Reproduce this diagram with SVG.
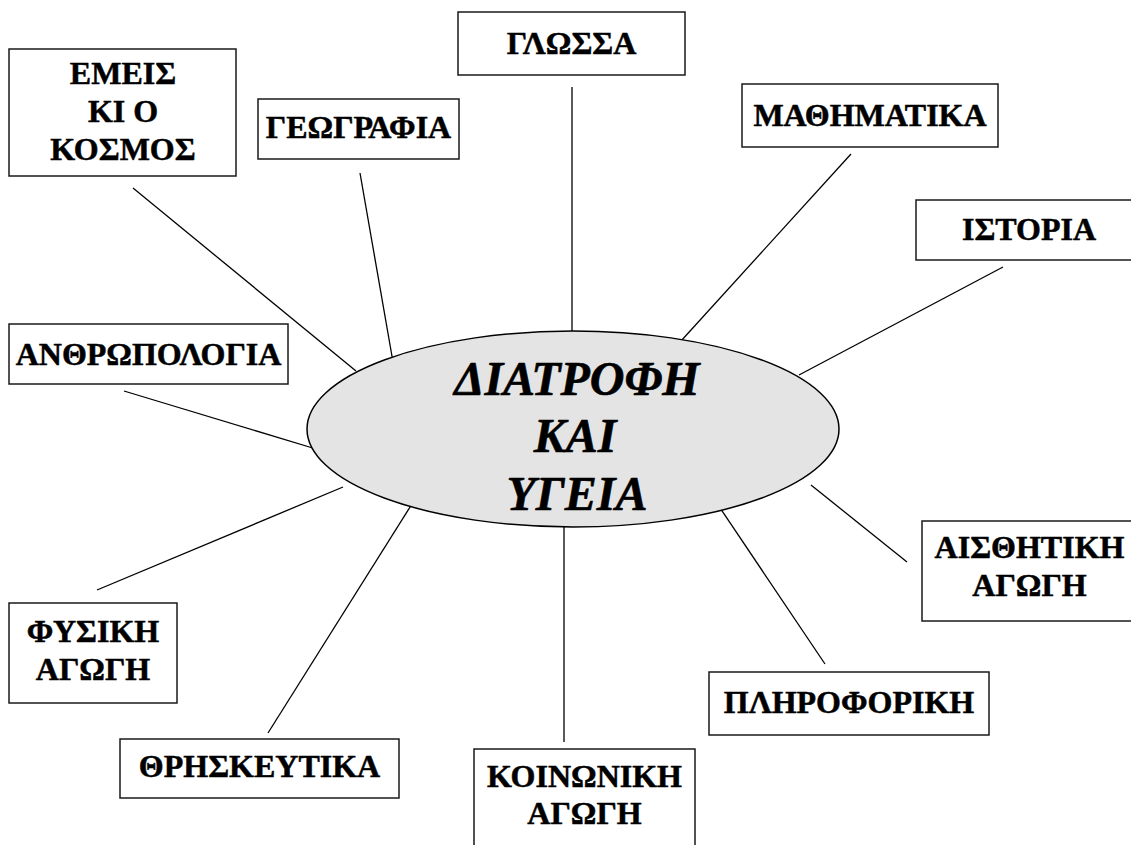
<svg xmlns="http://www.w3.org/2000/svg" width="1131" height="845" viewBox="0 0 1131 845">
<style>
.box{fill:#fff;stroke:#1a1a1a;stroke-width:1.5}
.lbl{font-family:"Liberation Serif","Times New Roman",serif;font-weight:bold;font-size:32px;fill:#000;stroke:#000;stroke-width:0.5;stroke-linejoin:round;text-anchor:middle}
.ctr{font-family:"Liberation Serif","Times New Roman",serif;font-weight:bold;font-style:italic;font-size:48px;fill:#000;stroke:#000;stroke-width:0.6;stroke-linejoin:round;text-anchor:middle}
.con{stroke:#000;stroke-width:1.3;fill:none}
</style>
<rect width="1131" height="845" fill="#fff"/>
<g id="connectors">
<line class="con" x1="133" y1="188" x2="356" y2="371"/>
<line class="con" x1="360" y1="173" x2="393" y2="362"/>
<line class="con" x1="572" y1="87" x2="572" y2="334"/>
<line class="con" x1="851" y1="154" x2="681" y2="341"/>
<line class="con" x1="1003" y1="267" x2="799" y2="375"/>
<line class="con" x1="907" y1="562" x2="811" y2="485"/>
<line class="con" x1="825" y1="664" x2="708" y2="490"/>
<line class="con" x1="564" y1="742" x2="564" y2="508"/>
<line class="con" x1="268" y1="733" x2="422" y2="488"/>
<line class="con" x1="97" y1="590" x2="343" y2="487"/>
<line class="con" x1="124" y1="391" x2="316" y2="449"/>
</g>
<g id="center">
<ellipse cx="573" cy="429" rx="266" ry="98" fill="#e4e4e4" stroke="#000" stroke-width="1.5"/>
<text class="ctr" x="577" y="395">ΔΙΑΤΡΟΦΗ</text>
<text class="ctr" x="575" y="452">ΚΑΙ</text>
<text class="ctr" x="577" y="510">ΥΓΕΙΑ</text>
</g>
<g id="emeis">
<rect class="box" x="9" y="49" width="227" height="127"/>
<text class="lbl" x="123" y="84">ΕΜΕΙΣ</text>
<text class="lbl" x="123" y="122">ΚΙ Ο</text>
<text class="lbl" x="123" y="160">ΚΟΣΜΟΣ</text>
</g>
<g id="geografia">
<rect class="box" x="258" y="99" width="201" height="60"/>
<text class="lbl" x="358.5" y="138">ΓΕΩΓΡΑΦΙΑ</text>
</g>
<g id="glossa">
<rect class="box" x="458" y="12" width="227" height="63"/>
<text class="lbl" x="571.5" y="54">ΓΛΩΣΣΑ</text>
</g>
<g id="mathimatika">
<rect class="box" x="742" y="84" width="256" height="63"/>
<text class="lbl" x="870" y="126">ΜΑΘΗΜΑΤΙΚΑ</text>
</g>
<g id="istoria">
<rect class="box" x="916" y="200" width="226" height="60"/>
<text class="lbl" x="1029" y="240">ΙΣΤΟΡΙΑ</text>
</g>
<g id="anthropologia">
<rect class="box" x="9" y="324" width="279" height="60"/>
<text class="lbl" x="148.5" y="365">ΑΝΘΡΩΠΟΛΟΓΙΑ</text>
</g>
<g id="aisthitiki">
<rect class="box" x="922" y="521" width="215" height="100"/>
<text class="lbl" x="1029.5" y="558">ΑΙΣΘΗΤΙΚΗ</text>
<text class="lbl" x="1029.5" y="596">ΑΓΩΓΗ</text>
</g>
<g id="pliroforiki">
<rect class="box" x="709" y="672" width="280" height="63"/>
<text class="lbl" x="849" y="713">ΠΛΗΡΟΦΟΡΙΚΗ</text>
</g>
<g id="koinoniki">
<rect class="box" x="474" y="749" width="221" height="110"/>
<text class="lbl" x="584.5" y="787">ΚΟΙΝΩΝΙΚΗ</text>
<text class="lbl" x="584.5" y="824">ΑΓΩΓΗ</text>
</g>
<g id="thriskeftika">
<rect class="box" x="120" y="739" width="279" height="59"/>
<text class="lbl" x="259.5" y="777">ΘΡΗΣΚΕΥΤΙΚΑ</text>
</g>
<g id="fysiki">
<rect class="box" x="9" y="603" width="168" height="100"/>
<text class="lbl" x="93" y="642">ΦΥΣΙΚΗ</text>
<text class="lbl" x="93" y="680">ΑΓΩΓΗ</text>
</g>
</svg>
